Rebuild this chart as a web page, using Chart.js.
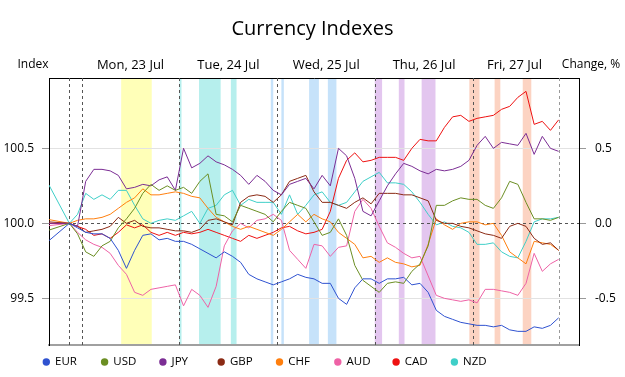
<!DOCTYPE html>
<html><head><meta charset="utf-8">
<script src="https://cdn.jsdelivr.net/npm/chart.js@4/dist/chart.umd.min.js"></script>
<style>html,body{margin:0;padding:0;background:#fff}canvas{display:block}</style>
</head><body>
<canvas id="c" width="625" height="377"></canvas>
<script>
// time axis: hours from Mon 23 Jul 00:00
const hours = [-8, -3,
  -1, 1, 3, 5, 7, 9, 11, 13, 15, 17, 19, 21, 23,
  25, 27, 29, 31, 33, 35, 37, 39, 41, 43, 45, 47, 49, 51, 53, 55, 57,
  59, 61, 63, 65, 67, 69, 71, 73, 75, 77, 79, 81, 83, 85, 87, 89, 91,
  93, 95, 97, 99, 101, 103, 105, 107, 109, 111, 113, 115, 117];

const EUR = [99.885, 100.0,
  99.97, 99.94, 99.93, 99.93, 99.90, 99.82, 99.70, 99.82, 99.92, 99.93, 99.89, 99.90, 99.88,
  99.88, 99.86, 99.83, 99.80, 99.77, 99.81, 99.78, 99.74, 99.66, 99.63, 99.61, 99.59, 99.61, 99.63, 99.66, 99.64, 99.63,
  99.60, 99.60, 99.50, 99.46, 99.57, 99.63, 99.63, 99.60, 99.63, 99.63, 99.64, 99.59, 99.60, 99.54, 99.42, 99.38, 99.36,
  99.34, 99.33, 99.32, 99.32, 99.31, 99.32, 99.29, 99.28, 99.28, 99.31, 99.30, 99.32, 99.37];
const USD = [99.955, 100.0,
  99.93, 99.81, 99.78, 99.85, 99.88, 99.97, 100.03, 100.10, 100.20, 100.26, 100.22, 100.25, 100.22,
  100.24, 100.20, 100.28, 100.33, 100.06, 100.05, 100.01, 100.12, 100.10, 100.08, 100.06, 100.01, 100.08, 100.14, 100.12, 100.10, 100.01,
  99.92, 99.94, 100.03, 99.92, 99.72, 99.62, 99.58, 99.54, 99.60, 99.61, 99.60, 99.68, 99.73, 99.85, 100.12, 100.12, 100.15,
  100.17, 100.16, 100.16, 100.12, 100.10, 100.17, 100.28, 100.26, 100.14, 100.03, 100.03, 100.02, 100.04];
const JPY = [100.0, 100.0,
  99.98, 100.28, 100.36, 100.36, 100.35, 100.32, 100.23, 100.24, 100.26, 100.25, 100.29, 100.31, 100.22,
  100.50, 100.37, 100.40, 100.45, 100.41, 100.39, 100.36, 100.32, 100.26, 100.32, 100.28, 100.22, 100.19, 100.26, 100.28, 100.30, 100.23,
  100.32, 100.25, 100.50, 100.45, 100.30, 100.08, 100.05, 100.15, 100.25, 100.33, 100.40, 100.38, 100.35, 100.33, 100.36, 100.35, 100.36,
  100.38, 100.42, 100.52, 100.58, 100.50, 100.54, 100.53, 100.52, 100.60, 100.46, 100.58, 100.50, 100.48];
const GBP = [100.01, 100.0,
  99.98, 99.94, 99.95, 99.96, 99.98, 100.04, 100.00, 100.02, 99.98, 99.97, 99.97, 99.96, 99.95,
  99.95, 99.94, 99.96, 100.02, 100.03, 100.01, 99.99, 100.14, 100.18, 100.19, 100.18, 100.14, 100.19, 100.28, 100.30, 100.32, 100.21,
  100.14, 100.14, 100.12, 100.10, 100.14, 100.17, 100.13, 100.20, 100.20, 100.20, 100.19, 100.19, 100.17, 100.15, 100.02, 100.00, 100.00,
  99.98, 99.97, 99.95, 99.93, 99.92, 99.90, 99.98, 100.00, 99.98, 99.90, 99.86, 99.87, 99.82];
const CHF = [100.025, 100.0,
  100.02, 100.03, 100.03, 100.04, 100.06, 100.10, 100.14, 100.17, 100.23, 100.19, 100.19, 100.20, 100.21,
  100.20, 100.18, 100.17, 100.10, 100.04, 100.01, 99.98, 99.96, 99.98, 99.96, 99.94, 99.92, 99.96, 100.01, 100.06, 100.01, 100.06,
  100.03, 100.01, 99.94, 99.90, 99.86, 99.77, 99.78, 99.74, 99.77, 99.74, 99.73, 99.71, 99.72, 99.86, 100.03, 99.99, 99.96,
  100.00, 100.01, 100.01, 99.99, 100.00, 99.92, 99.81, 99.77, 99.73, 99.88, 99.87, 99.86, 99.82];
const AUD = [99.985, 100.0,
  99.94, 99.89, 99.86, 99.84, 99.80, 99.72, 99.66, 99.54, 99.52, 99.56, 99.57, 99.58, 99.59,
  99.45, 99.56, 99.52, 99.44, 99.58, 99.85, 99.95, 100.00, 99.97, 100.02, 100.03, 100.06, 100.02, 99.82, 99.76, 99.70, 99.86,
  99.85, 99.78, 99.84, 99.85, 100.08, 100.16, 100.10, 99.98, 99.87, 99.84, 99.80, 99.77, 99.78, 99.65, 99.52, 99.50, 99.49,
  99.48, 99.49, 99.47, 99.56, 99.56, 99.55, 99.54, 99.52, 99.60, 99.80, 99.68, 99.73, 99.76];
const CAD = [100.0, 100.0,
  99.98, 99.96, 99.92, 99.93, 99.90, 99.94, 99.99, 99.97, 99.99, 99.94, 99.92, 99.94, 99.92,
  99.94, 99.93, 99.94, 99.96, 99.94, 99.92, 99.90, 99.88, 99.92, 99.90, 99.92, 99.94, 99.97, 99.98, 99.95, 99.93, 99.94,
  99.96, 100.08, 100.30, 100.42, 100.47, 100.41, 100.42, 100.44, 100.44, 100.44, 100.42, 100.50, 100.56, 100.55, 100.55, 100.64, 100.71,
  100.72, 100.68, 100.70, 100.71, 100.72, 100.76, 100.78, 100.84, 100.88, 100.66, 100.68, 100.62, 100.69];
const NZD = [100.255, 100.0,
  100.06, 100.20, 100.16, 100.19, 100.16, 100.22, 100.22, 100.12, 100.03, 100.00, 100.02, 100.03, 100.02,
  100.05, 100.08, 100.00, 100.10, 100.12, 100.19, 100.22, 100.12, 100.16, 100.14, 100.14, 100.14, 100.06, 100.19, 100.06, 100.12, 100.19,
  100.21, 100.14, 100.12, 100.14, 100.21, 100.28, 100.31, 100.34, 100.27, 100.27, 100.26, 100.21, 100.14, 100.06, 99.99, 100.01, 99.98,
  99.97, 99.94, 99.86, 99.86, 99.87, 99.81, 99.78, 99.77, 99.88, 100.01, 100.03, 100.03, 100.04];

const currencies = ['EUR', 'USD', 'JPY', 'GBP', 'CHF', 'AUD', 'CAD', 'NZD'];
const seriesValues = [EUR, USD, JPY, GBP, CHF, AUD, CAD, NZD];
const seriesColors = ['#2f52d0', '#6b8e23', '#7b2d94', '#8b2a14', '#ff7f0e', '#ee62a6', '#ee1111', '#3fcfc8'];

const dayLabels = ['Mon, 23 Jul', 'Tue, 24 Jul', 'Wed, 25 Jul', 'Thu, 26 Jul', 'Fri, 27 Jul'];
const dayLabelHours = [12, 36, 60, 84, 106.2];
const sessionLines = [-3, 0, 24, 48, 72, 96];
const closeLine = 117;

const bandStart = [9.7, 24.0, 28.8, 36.6, 46.4, 49.0, 55.8, 60.4, 71.9, 77.8, 83.4, 95.1, 101.3, 108.2];
const bandEnd   = [17.2, 24.5, 34.1, 38.0, 47.0, 49.6, 58.2, 62.5, 73.7, 79.2, 86.8, 97.6, 102.7, 110.3];
const bandColor = ['#ffffb8', '#b6efed', '#b6efed', '#b6efed', '#c6e2fa', '#c6e2fa', '#c6e2fa', '#c6e2fa',
                   '#e3c6ef', '#e3c6ef', '#e3c6ef', '#fcd3c2', '#fcd3c2', '#fcd3c2'];

const indexTicks = [99.5, 100.0, 100.5];
const changeTicks = [-0.5, 0.0, 0.5];
const indexMin = 99.189, indexMax = 100.969;

const FONT = "'Open Sans', 'Noto Sans', sans-serif";
Chart.defaults.font.family = FONT;
Chart.defaults.font.size = 12;
Chart.defaults.color = '#000';

const bandsPlugin = {
  id: 'bands',
  beforeDraw(chart) {
    const {ctx, chartArea: a, scales: {x}} = chart;
    ctx.save();
    for (let i = 0; i < bandStart.length; i++) {
      const x1 = x.getPixelForValue(bandStart[i]);
      const x2 = x.getPixelForValue(bandEnd[i]);
      ctx.fillStyle = bandColor[i];
      ctx.fillRect(x1, a.top, x2 - x1, a.bottom - a.top);
    }
    ctx.restore();
  },
  beforeDatasetsDraw(chart) {
    const {ctx, chartArea: a, scales: {x, y}} = chart;
    ctx.save();
    ctx.lineWidth = 1;
    ctx.setLineDash([3, 3]);
    const vline = (h, color) => {
      const px = Math.round(x.getPixelForValue(h)) + 0.5;
      ctx.strokeStyle = color;
      ctx.beginPath(); ctx.moveTo(px, a.top); ctx.lineTo(px, a.bottom); ctx.stroke();
    };
    sessionLines.forEach(h => vline(h, '#555'));
    vline(closeLine, '#999');
    const py = Math.round(y.getPixelForValue(100)) + 0.5;
    ctx.strokeStyle = '#555';
    ctx.beginPath(); ctx.moveTo(a.left, py); ctx.lineTo(a.right, py); ctx.stroke();
    ctx.restore();
  },
  afterDraw(chart) {
    const {ctx, chartArea: a} = chart;
    ctx.save();
    ctx.font = "12px " + FONT;
    ctx.fillStyle = '#000';
    ctx.textBaseline = 'middle';
    ctx.textAlign = 'center';
    ctx.fillText('Index', a.left - 16, a.top - 13);
    ctx.fillText('Change, %', a.right + 12, a.top - 13);
    // legend
    ctx.font = "11.5px " + FONT;
    ctx.textAlign = 'left';
    chart.data.datasets.forEach((ds, i) => {
      const cx = 46.3 + 58.3 * i, cy = 362;
      ctx.fillStyle = ds.borderColor;
      ctx.beginPath(); ctx.arc(cx, cy, 3.7, 0, Math.PI * 2); ctx.fill();
      ctx.fillStyle = '#000';
      ctx.fillText(ds.label, cx + 8.7, cy);
    });
    ctx.restore();
  }
};

new Chart(document.getElementById('c'), {
  type: 'line',
  data: {
    datasets: currencies.map((c, i) => ({
      label: c,
      data: hours.map((h, k) => ({x: h, y: seriesValues[i][k]})),
      borderColor: seriesColors[i],
      backgroundColor: seriesColors[i],
      borderWidth: 1,
      pointRadius: 0,
      tension: 0,
      fill: false,
      yAxisID: 'y'
    }))
  },
  options: {
    responsive: false,
    animation: false,
    layout: {padding: 0},
    plugins: {
      legend: {display: false},
      tooltip: {enabled: false},
      title: {
        display: true,
        text: 'Currency Indexes',
        font: {size: 20, weight: 'normal'},
        color: '#000',
        padding: {top: 17, bottom: 0}
      }
    },
    scales: {
      x: {
        type: 'linear', position: 'bottom', min: -8, max: 122,
        ticks: {display: false},
        grid: {display: false},
        border: {display: true, color: '#a0a0a0', width: 2},
        afterFit: s => { s.height = 32; }
      },
      xTop: {
        type: 'linear', position: 'top', min: -8, max: 122,
        grid: {display: false, drawTicks: false},
        border: {display: true, color: '#000', width: 1},
        ticks: {padding: 5, autoSkip: false, maxRotation: 0, color: '#000', font: {size: 13},
                callback: (v, i) => dayLabels[i]},
        afterBuildTicks: s => { s.ticks = dayLabelHours.map(v => ({value: v})); },
        afterFit: s => { s.height = 37; }
      },
      y: {
        position: 'left', min: indexMin, max: indexMax,
        afterBuildTicks: s => { s.ticks = indexTicks.map(v => ({value: v})); },
        ticks: {padding: 8, color: '#000', callback: v => v.toFixed(1)},
        grid: {
          color: ctx => (ctx.tick && ctx.tick.value === 100) ? 'rgba(0,0,0,0)' : '#e2e2e2',
          tickColor: '#999', tickLength: 7
        },
        border: {display: true, color: '#000', width: 1},
        afterFit: s => { s.width = 49; }
      },
      y2: {
        position: 'right', min: indexMin - 100, max: indexMax - 100,
        afterBuildTicks: s => { s.ticks = changeTicks.map(v => ({value: v})); },
        ticks: {padding: 9, color: '#000', callback: v => v.toFixed(1)},
        grid: {drawOnChartArea: false, tickColor: '#999', tickLength: 7},
        border: {display: true, color: '#000', width: 1},
        afterFit: s => { s.width = 46; }
      }
    }
  },
  plugins: [bandsPlugin]
});
</script>
</body></html>
